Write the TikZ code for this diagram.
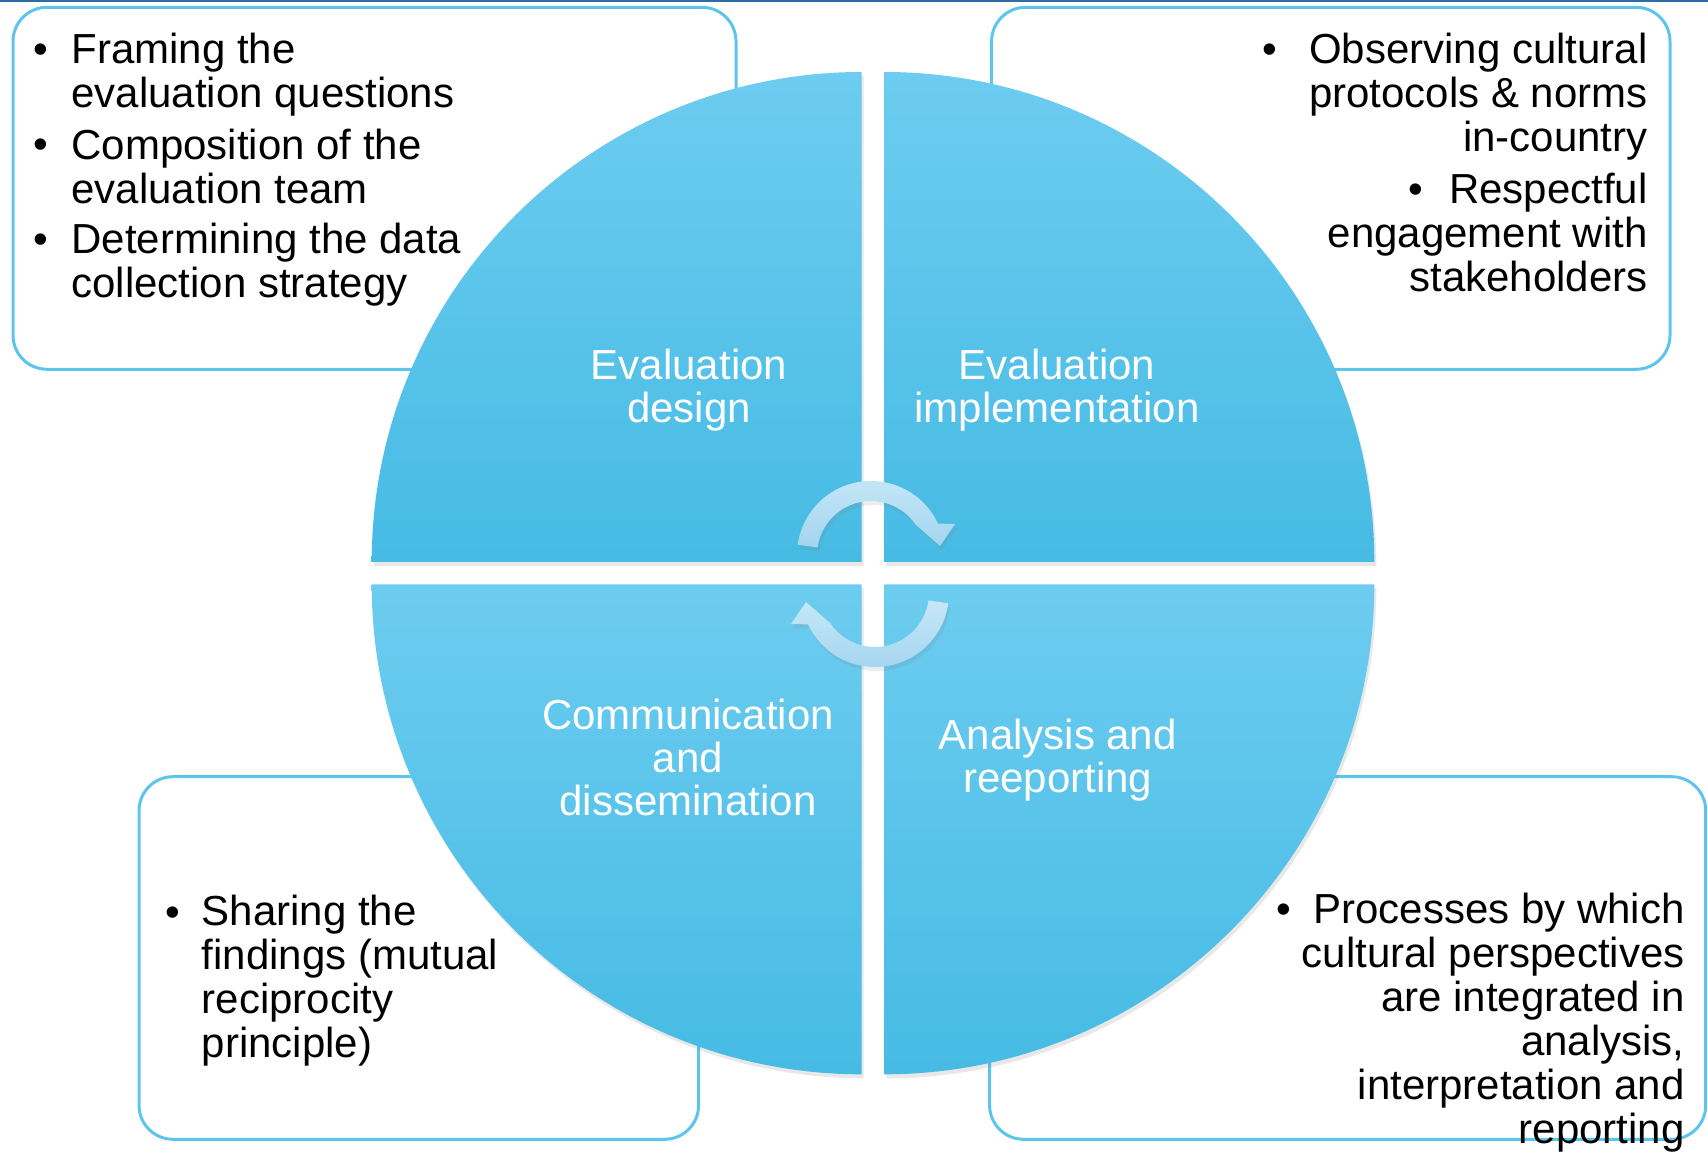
\documentclass[tikz,border=0pt]{standalone}
\usepackage{fontspec}
\setmainfont{Liberation Sans}
\usetikzlibrary{positioning}
\usetikzlibrary{shadows}

\definecolor{boxline}{HTML}{5DC5EC}
\definecolor{quadtop}{HTML}{6DCCF0}
\definecolor{quadbottom}{HTML}{46BBE4}
\definecolor{arrowtop}{HTML}{C6E7F7}
\definecolor{arrowbottom}{HTML}{A2D5EF}
\definecolor{topline}{HTML}{2E6CA4}

\tikzset{
	infobox/.style={draw=boxline, line width=1.5pt, rounded corners=17pt, fill=white},
	quadfill/.style={top color=quadtop, bottom color=quadbottom, drop shadow={opacity=0.18, shadow xshift=1pt, shadow yshift=-2pt}},
	arrowfill/.style={top color=arrowtop, bottom color=arrowbottom, drop shadow={opacity=0.15, shadow xshift=1pt, shadow yshift=-2pt}},
	itemtext/.style={font=\fontsize{21}{22}\selectfont, inner sep=0pt, align=left, anchor=base west},
	itemright/.style={font=\fontsize{21}{22}\selectfont, inner sep=0pt, align=right, anchor=base east},
	bulletmark/.style={font=\fontsize{21}{22}\selectfont, inner sep=0pt, anchor=base},
	phase/.style={text=white, font=\fontsize{21}{21.6}\selectfont, inner sep=0pt, align=center, anchor=base}
}

% one quarter of the disc, #1 = corner point, #2 = angle of its first straight side
\newcommand{\quadrant}[2]{
	\path[quadfill] #1 -- ++(#2:490) arc[start angle=#2, delta angle=90, radius=490] -- cycle;
}
% curved arrow between the quarters, #1 = centre of the arc, #2 = rotation
\newcommand{\cyclearrow}[2]{
	\begin{scope}[shift={#1}, rotate=#2]
		\path[arrowfill] (172:74) arc[start angle=172, end angle=25.1, radius=74] -- (84,31) -- (69,9)
			-- (34.3:54) arc[start angle=34.3, end angle=172, radius=54] -- cycle;
	\end{scope}
}

\begin{document}
\begin{tikzpicture}[x=0.5pt, y=0.5pt]
	\useasboundingbox (0,0) rectangle (1708,1153);
	\fill[topline] (0,1151) rectangle (1708,1153);

	%boxes behind the disc
	\draw[infobox] (13,783.7) rectangle (736,1145.7);
	\draw[infobox] (991.6,783.7) rectangle (1670,1145.7);
	\draw[infobox] (139,13.7) rectangle (698.6,376.3);
	\draw[infobox] (989.6,13.7) rectangle (1705.7,376.3);

	%corner points of the four quarters
	\coordinate (TLc) at (861.7,591);
	\coordinate (TRc) at (884.3,591);
	\coordinate (BLc) at (861.7,568.7);
	\coordinate (BRc) at (884.3,568.7);

	\quadrant{(TLc)}{90}
	\quadrant{(TRc)}{0}
	\quadrant{(BLc)}{180}
	\quadrant{(BRc)}{270}

	\cyclearrow{(871,598)}{0}
	\cyclearrow{(875,560)}{180}

	%phase labels (base = last line)
	\node[phase] (design) at (689,730.3) {Evaluation\\design};
	\node[phase] (implement) at (1057,730.3) {Evaluation\\implementation};
	\node[phase] (communicate) at (688,337.2) {Communication\\and\\dissemination};
	\node[phase] (analyse) at (1057.7,360.3) {Analysis and\\reeporting};

	%top left box
	\node[bulletmark] (frameb) at (40.5,1089.7) {\textbullet};
	\node[itemtext] (frame) at (71,1045.7) {Framing the\\evaluation questions};
	\node[bulletmark] (teamb) at (40.5,994.7) {\textbullet};
	\node[itemtext] (team) at (71,949.7) {Composition of the\\evaluation team};
	\node[bulletmark] (datab) at (40.5,899) {\textbullet};
	\node[itemtext] (data) at (71,855.3) {Determining the data\\collection strategy};

	%top right box
	\node[itemright] (protocols) at (1648,1001.3) {\textbullet\hspace{16pt}Observing cultural\\protocols \& norms\\in-country};
	\node[itemright] (respect) at (1648,861.3) {\textbullet\hspace{12.8pt}Respectful\\engagement with\\stakeholders};

	%bottom left box
	\node[bulletmark] (shareb) at (172.8,226.3) {\textbullet};
	\node[itemtext] (share) at (201.5,95.3) {Sharing the\\findings (mutual\\reciprocity\\principle)};

	%bottom right box
	\node[itemright] (process) at (1685,9.3) {\textbullet\hspace{11.3pt}Processes by which\\cultural perspectives\\are integrated in\\analysis,\\interpretation and\\reporting};
\end{tikzpicture}
\end{document}
